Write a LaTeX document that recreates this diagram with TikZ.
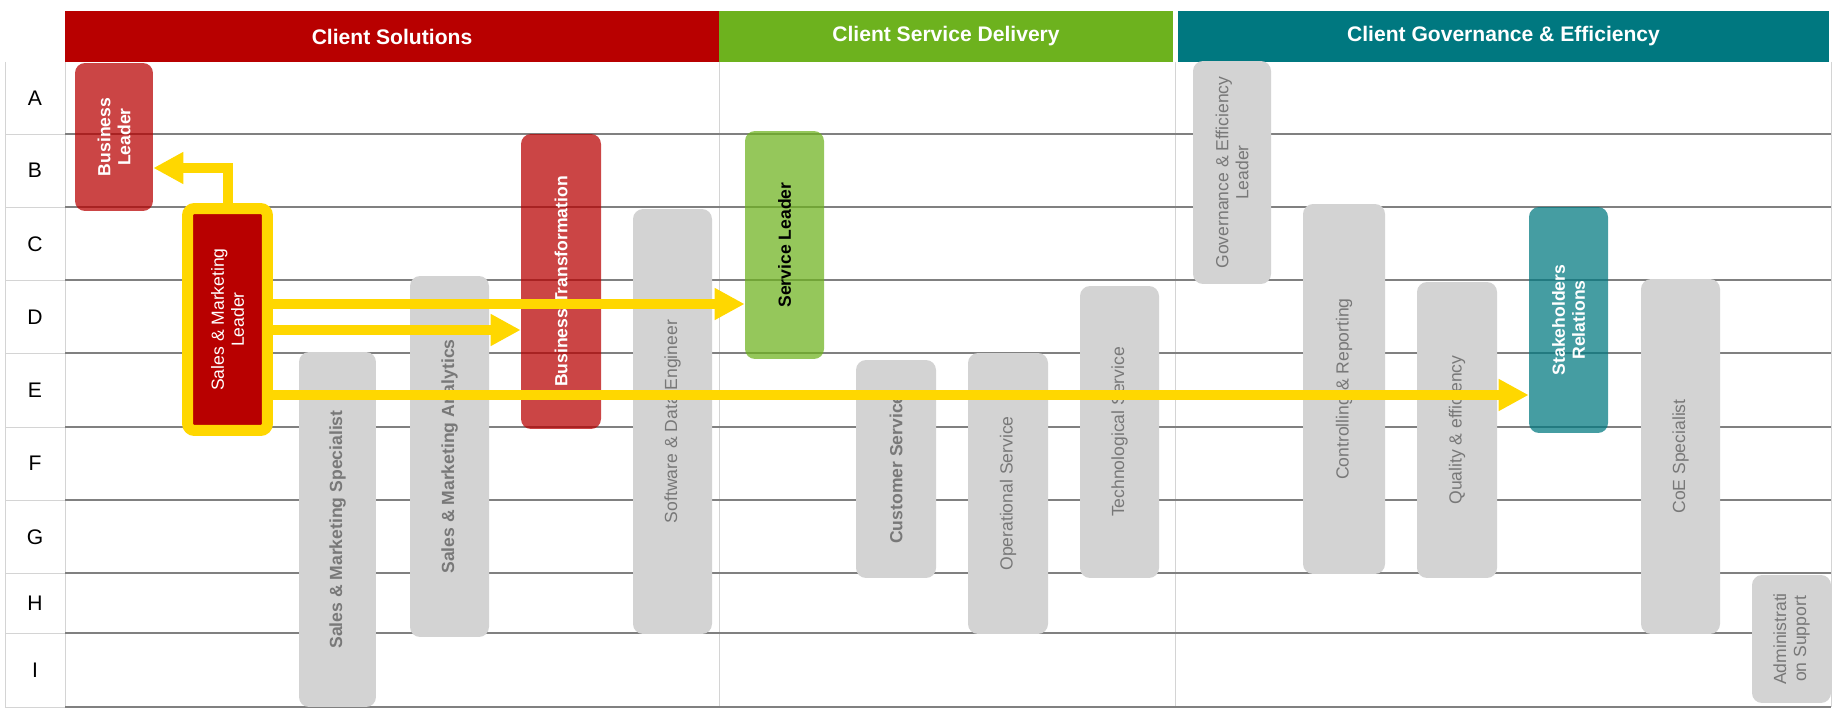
\documentclass[tikz,border=0pt]{standalone}
\usepackage{fontspec}
\setmainfont{Liberation Sans}
\usetikzlibrary{arrows.meta}
\definecolor{csred}{RGB}{184,0,0}
\definecolor{csdgreen}{RGB}{109,178,30}
\definecolor{cgeteal}{RGB}{0,120,128}
\definecolor{boxgray}{RGB}{211,211,211}
\definecolor{txtgray}{RGB}{120,120,120}
\definecolor{rowgray}{RGB}{128,128,128}
\definecolor{gridgray}{RGB}{212,212,212}
\definecolor{arrowyellow}{RGB}{255,215,0}
\begin{document}
\begin{tikzpicture}[
  x=0.02cm, y=-0.02cm,
  hdr/.style={rectangle,fill=#1,text=white,font=\bfseries\fontsize{12}{14}\selectfont,minimum height=1.02cm,inner sep=0pt,outer sep=0pt},
  rowlbl/.style={font=\fontsize{12}{14}\selectfont,inner sep=0pt},
  rowline/.style={draw=rowgray,line width=0.025cm},
  gridline/.style={draw=gridgray,line width=0.02cm},
  role/.style={rectangle,rounded corners=0.2cm,rotate=90,align=center,inner sep=0pt,font=\fontsize{10}{11.4}\selectfont},
  grayrole/.style={role,fill=boxgray,text=txtgray},
  boldtxt/.style={font=\bfseries\fontsize{10}{11.4}\selectfont},
  tintrole/.style={role,fill=#1,fill opacity=0.73,text opacity=1,text=white,boldtxt},
  arrow/.style={-{Triangle[length=0.6cm,width=0.6cm]},line width=0.2cm,draw=arrowyellow}
]
\useasboundingbox (0,0) rectangle (1841,713);

\draw[gridline] (5,62) -- (5,707) (65,62) -- (65,707) (719,62) -- (719,707)
  (1175,62) -- (1175,707) (1831,62) -- (1831,707);
\draw[gridline] (5,134) -- (65,134) (5,207) -- (65,207) (5,280) -- (65,280)
  (5,353) -- (65,353) (5,427) -- (65,427) (5,500) -- (65,500)
  (5,573) -- (65,573) (5,633) -- (65,633) (5,707) -- (65,707);
\draw[rowline] (65,134) -- (1831,134) (65,207) -- (1831,207) (65,280) -- (1831,280)
  (65,353) -- (1831,353) (65,427) -- (1831,427) (65,500) -- (1831,500)
  (65,573) -- (1831,573) (65,633) -- (1831,633) (65,707) -- (1831,707);

\node[hdr=csred,minimum width=13.08cm] (hcs) at (392,36.5) {Client Solutions};
\node[hdr=csdgreen,minimum width=9.08cm] (hcsd) at (946,36.5) {Client Service Delivery};
\node[hdr=cgeteal,minimum width=13.02cm] (hcge) at (1503.5,36.5) {Client Governance \& Efficiency};

\node[rowlbl] (ra) at (35,98) {A};
\node[rowlbl] (rb) at (35,170) {B};
\node[rowlbl] (rc) at (35,244) {C};
\node[rowlbl] (rd) at (35,317) {D};
\node[rowlbl] (re) at (35,390) {E};
\node[rowlbl] (rf) at (35,463) {F};
\node[rowlbl] (rg) at (35,537) {G};
\node[rowlbl] (rh) at (35,603) {H};
\node[rowlbl] (ri) at (35,670) {I};

\node[grayrole,boldtxt,minimum width=7.10cm,minimum height=1.54cm] (sms) at (337.5,529.5) {Sales \& Marketing Specialist};
\node[grayrole,boldtxt,minimum width=7.22cm,minimum height=1.58cm] (sma) at (449.5,456.5) {Sales \& Marketing Analytics};
\node[grayrole,minimum width=8.50cm,minimum height=1.58cm] (sde) at (672.5,421.5) {Software \& Data Engineer};
\node[grayrole,boldtxt,minimum width=4.36cm,minimum height=1.60cm] (cs) at (896,469) {Customer Service};
\node[grayrole,minimum width=5.62cm,minimum height=1.60cm] (os) at (1008,493.5) {Operational Service};
\node[grayrole,minimum width=5.84cm,minimum height=1.58cm] (ts) at (1119.5,432) {Technological Service};
\node[grayrole,minimum width=4.46cm,minimum height=1.56cm] (gel) at (1232,172.5) {Governance \& Efficiency\\Leader};
\node[grayrole,minimum width=7.40cm,minimum height=1.64cm] (cr) at (1344,389) {Controlling \& Reporting};
\node[grayrole,minimum width=5.92cm,minimum height=1.60cm] (qe) at (1457,430) {Quality \& efficiency};
\node[grayrole,minimum width=7.10cm,minimum height=1.58cm] (coe) at (1680.5,456.5) {CoE Specialist};
\node[grayrole,minimum width=2.56cm,minimum height=1.58cm] (adm) at (1791.5,639) {Administrati\\on Support};

\node[tintrole=csred,minimum width=2.96cm,minimum height=1.56cm] (bl) at (114,137) {Business\\Leader};
\node[tintrole=csred,minimum width=5.90cm,minimum height=1.60cm] (bt) at (561,281.5) {Business Transformation};
\node[tintrole=csdgreen,text=black,minimum width=4.56cm,minimum height=1.58cm] (sl) at (784.5,245) {Service Leader};
\node[tintrole=cgeteal,minimum width=4.52cm,minimum height=1.58cm] (sr) at (1568.5,320) {Stakeholders\\Relations};
\node[role,fill=csred,draw=arrowyellow,line width=0.22cm,rounded corners=0.14cm,text=white,minimum width=4.44cm,minimum height=1.60cm] (sml) at (227.5,319.5) {Sales \& Marketing\\Leader};

\coordinate (lvlb) at (0,168);
\coordinate (lvld1) at (0,304);
\coordinate (lvld2) at (0,330);
\coordinate (lvle) at (0,395);

\draw[arrow] (sml.east) |- (bl.south |- lvlb);
\draw[arrow] (sml.south |- lvld1) -- (sl.north |- lvld1);
\draw[arrow] (sml.south |- lvld2) -- (bt.north |- lvld2);
\draw[arrow] (sml.south |- lvle) -- (sr.north |- lvle);
\end{tikzpicture}
\end{document}
